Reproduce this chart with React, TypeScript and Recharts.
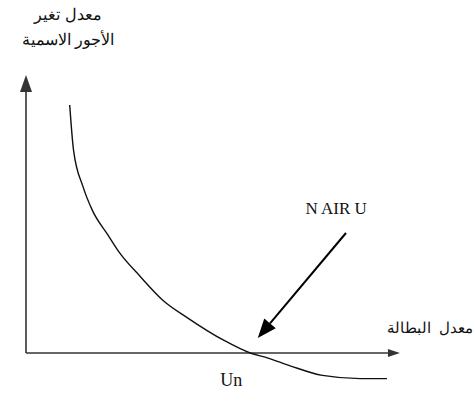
import { LineChart, Line, XAxis, YAxis, ReferenceLine, ReferenceDot } from "recharts";

// Phillips curve: unemployment rate (u) vs. nominal wage change (w)
const unemployment = [1.15, 1.25, 1.5, 1.75, 2.15, 2.45, 3.0, 3.6, 4.25, 5.2, 5.9, 6.35, 6.95, 7.8, 8.8, 9.5];
const wageChange = [7.75, 6.35, 5.2, 4.45, 3.7, 3.15, 2.4, 1.65, 1.1, 0.4, 0, -0.15, -0.4, -0.7, -0.8, -0.8];

const xDomain = [0, 10];
const yDomain = [-1, 9];

// axes drawn as arrows from the origin
const yAxisTop = 8.69;
const xAxisEnd = 9.84;

// NAIRU pointer: from the label down to the natural rate
const nairuFrom = { u: 8.42, w: 3.75 };
const nairuTo = { u: 6.1, w: 0.47 };
const nairuLabelAt = { u: 8.16, w: 4.53 };
const naturalRate = { u: 5.4, w: -0.84 };

const yTitle = ["معدل تغير", "الأجور الاسمية"];
const xTitle = "معدل  البطالة";

const data = unemployment.map((u, i) => ({ u, w: wageChange[i] }));

const serif = "Liberation Serif, Times New Roman, serif";
const sans = "Liberation Sans, Arial, sans-serif";

function arrowShape(head: number, half: number, stroke: string, width: number) {
  return (props: any) => {
    const { x1, y1, x2, y2 } = props;
    const ang = Math.atan2(y2 - y1, x2 - x1);
    const bx = x2 - head * Math.cos(ang);
    const by = y2 - head * Math.sin(ang);
    const px = -Math.sin(ang) * half;
    const py = Math.cos(ang) * half;
    return (
      <g>
        <line x1={x1} y1={y1} x2={bx} y2={by} stroke={stroke} strokeWidth={width} />
        <polygon
          points={`${x2},${y2} ${bx + px},${by + py} ${bx - px},${by - py}`}
          fill={stroke}
        />
      </g>
    );
  };
}

// text centred on a reference point
const textAt = (text: string, size: number) => (props: any) => (
  <text
    x={props.cx}
    y={props.cy}
    textAnchor="middle"
    dominantBaseline="central"
    style={{ fontFamily: serif, fontSize: size }}
    fill="#111"
  >
    {text}
  </text>
);

export default function App() {
  return (
    <div style={{ position: "absolute", left: 0, top: 0, width: 474, height: 394, background: "#fff", overflow: "hidden" }}>
      <div
        dir="rtl"
        style={{
          position: "absolute",
          left: 0,
          top: 2,
          width: 136,
          textAlign: "center",
          fontFamily: sans,
          fontSize: 16,
          lineHeight: "25px",
          color: "#111",
        }}
      >
        {yTitle.map((t) => (
          <div key={t}>{t}</div>
        ))}
      </div>
      <div
        dir="rtl"
        style={{
          position: "absolute",
          right: 1,
          top: 317,
          fontFamily: sans,
          fontSize: 15,
          lineHeight: "22px",
          whiteSpace: "pre",
          color: "#111",
        }}
      >
        {xTitle}
      </div>
      <LineChart
        width={474}
        height={394}
        data={data}
        margin={{ top: 65, right: 68, bottom: 9, left: 26 }}
        style={{ overflow: "visible" }}
      >
        <XAxis type="number" dataKey="u" domain={xDomain} hide allowDataOverflow />
        <YAxis type="number" domain={yDomain} hide allowDataOverflow />
        <ReferenceLine
          segment={[{ x: 0, y: 0 }, { x: 0, y: yAxisTop }]}
          shape={arrowShape(17, 6, "#333", 1.6)}
          ifOverflow="visible"
        />
        <ReferenceLine
          segment={[{ x: 0, y: 0 }, { x: xAxisEnd, y: 0 }]}
          shape={arrowShape(12, 4, "#333", 1.6)}
          ifOverflow="visible"
        />
        <Line
          type="monotone"
          dataKey="w"
          stroke="#111"
          strokeWidth={1.4}
          dot={false}
          isAnimationActive={false}
        />
        <ReferenceLine
          segment={[
            { x: nairuFrom.u, y: nairuFrom.w },
            { x: nairuTo.u, y: nairuTo.w },
          ]}
          shape={arrowShape(19, 7.5, "#000", 2)}
          ifOverflow="visible"
        />
        <ReferenceDot
          x={nairuLabelAt.u}
          y={nairuLabelAt.w}
          ifOverflow="visible"
          shape={textAt("N AIR U", 17)}
        />
        <ReferenceDot
          x={naturalRate.u}
          y={naturalRate.w}
          ifOverflow="visible"
          shape={textAt("Un", 18)}
        />
      </LineChart>
    </div>
  );
}
